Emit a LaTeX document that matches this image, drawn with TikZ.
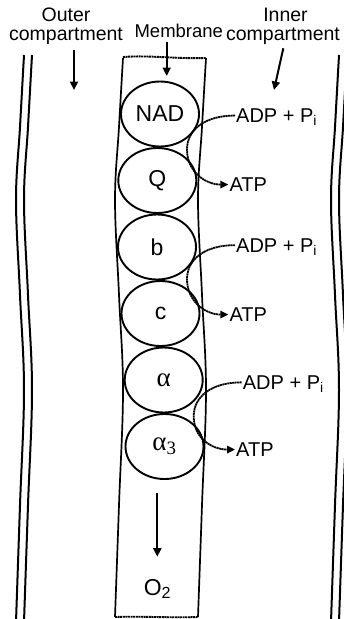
\documentclass[tikz,border=0pt]{standalone}
\usepackage{fontspec}
\setmainfont{Liberation Sans}
\newfontfamily\greekfont{Liberation Serif}
\usetikzlibrary{shapes.geometric,arrows.meta}

% a gently waving vertical line: #1 style, #2 mean x, #3 top y, #4 bottom y
\newcommand\wavyline[4]{%
  \draw[#1] plot[smooth, tension=0.6] coordinates
    {({#2+4},#3) ({#2},127) ({#2-4},200) ({#2},295) ({#2+4},390) ({#2},505) ({#2-4},#4)};}

\begin{document}
\begin{tikzpicture}[x=1pt,y=-1pt,
  wall/.style={line width=2pt},
  side/.style={line width=1.7pt},
  cut/.style={line width=1.9pt, dash pattern=on 2pt off 0.6pt},
  carrier/.style={draw, ellipse, line width=1.9pt, minimum width=78pt,
    minimum height=65pt, inner sep=0pt, font=\fontsize{23}{23}\selectfont},
  greek/.style={font=\fontsize{27}{27}\greekfont},
  lab/.style={font=\fontsize{19.5}{19.5}\selectfont, inner sep=0pt, anchor=base},
  prod/.style={font=\fontsize{20}{20}\selectfont, inner sep=1pt,
    text height=14.3pt, text depth=0pt, anchor=base west},
  pointer/.style={line width=2pt, -{Triangle[length=8.5pt,width=8pt]}},
  flow/.style={line width=1.8pt, dash pattern=on 2pt off 0.5pt,
    -{Triangle[length=8pt,width=7.5pt]}}
]
\useasboundingbox (0,0) rectangle (344,619);
\clip (0,0) rectangle (344,619);

% outer and inner walls
\wavyline{wall}{20}{55}{622}
\wavyline{wall}{28}{55}{622}
\wavyline{wall}{335}{55}{622}
\wavyline{wall}{343}{55}{622}

% membrane band
\wavyline{side}{119}{58}{617}
\wavyline{side}{202}{58}{617}
\draw[cut] (123,57) .. controls (150,55) and (175,59) .. (206,58);
\draw[cut] (115,617) .. controls (140,616) and (170,618) .. (198,617);

% top labels
\node[lab] (outer1) at (66,21.7) {Outer};
\node[lab] (outer2) at (66,40.7) {compartment};
\node[lab, font=\fontsize{18.5}{18.5}\selectfont] (mem) at (178.8,37.3) {Membrane};
\node[lab] (inner1) at (285.5,21.7) {Inner};
\node[lab] (inner2) at (283,40.7) {compartment};

\coordinate (outS) at (74,50);     \coordinate (outE) at (74,90);
\coordinate (memS) at (166.7,41.7); \coordinate (memE) at (166.7,76);
\coordinate (inS) at (283.3,48.3);  \coordinate (inE) at (274,90);
\draw[pointer] (outS) -- (outE);
\draw[pointer] (memS) -- (memE);
\draw[pointer] (inS) -- (inE);

% electron carriers
\node[carrier] (nad)    at (160,114)     {NAD};
\node[carrier] (q)      at (157.3,180.5) {Q};
\node[carrier] (b)      at (157,247)     {b};
\node[carrier] (c)      at (160.5,313.5) {c};
\node[carrier, greek] (alpha)  at (163.7,380)   {α};
\node[carrier, greek] (alpha3) at (164.5,446.5) {α\textsubscript{3}};

% oxygen
\node[font=\fontsize{23}{23}\selectfont, anchor=base] (o2) at (157.5,595) {O\textsubscript{2}};
\coordinate (oxS) at (157.3,493.3); \coordinate (oxE) at (157.3,556.7);
\draw[pointer] (oxS) -- (oxE);

% phosphorylation sites
\node[prod] (adp1) at (235,122.7)   {ADP + P\textsubscript{i}};
\node[prod] (atp1) at (228.3,191.7) {ATP};
\node[prod] (adp2) at (235,252.3)   {ADP + P\textsubscript{i}};
\node[prod] (atp2) at (228.3,321.7) {ATP};
\node[prod] (adp3) at (241.7,389.5) {ADP + P\textsubscript{i}};
\node[prod] (atp3) at (235,456.7)   {ATP};

\foreach \n in {1,2,3}
  \draw[flow] (adp\n.west) .. controls +(-30,0) and +(0,-20) .. ++(-48,34)
              .. controls +(0,22) and +(-23,0) .. (atp\n.west);
\end{tikzpicture}
\end{document}
